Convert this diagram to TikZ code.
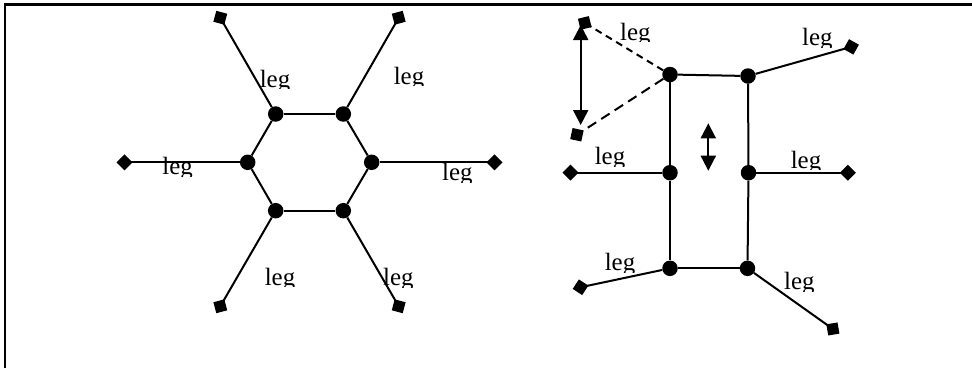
\documentclass[tikz,border=0pt]{standalone}
\usepackage{fontspec}
\setmainfont{Liberation Serif}
\usetikzlibrary{arrows.meta}
\begin{document}
\begin{tikzpicture}[x=1bp,y=-1bp,
  dot/.style={circle,fill=black,inner sep=0pt,minimum size=15.5bp},
  lab/.style={inner sep=0pt,anchor=base,font=\fontsize{25}{30}\selectfont},
  edge/.style={line width=2bp},
  legline/.style={line width=2bp,-{Turned Square[length=16bp,width=16bp]}},
  dbl/.style={line width=2bp,{Triangle[length=15bp,width=15bp]}-{Triangle[length=15bp,width=15bp]}}]
\newcommand\leglab[3]{\begin{scope}\clip (#2-30,#3+0.3) rectangle (#2+30,#3-30);
  \node[lab] (#1) at (#2,#3-1) {leg};\end{scope}}
\useasboundingbox (0,0) rectangle (972,368);
\fill[white] (0,0) rectangle (972,368);
% frame
\draw[line width=2.4bp,line join=miter] (5.2,368) -- (5.2,4.5) -- (972,4.5);
% ---------- left: hexagon ----------
\node[dot] (h1) at (275.7,114) {};
\node[dot] (h2) at (343.3,114) {};
\node[dot] (h3) at (371.7,162.3) {};
\node[dot] (h4) at (343.3,210.7) {};
\node[dot] (h5) at (275.7,210.7) {};
\node[dot] (h6) at (247.7,162.3) {};
\draw[edge] (h1) -- (h2);
\draw[edge] (h2) -- (h3);
\draw[edge] (h3) -- (h4);
\draw[edge] (h4) -- (h5);
\draw[edge] (h5) -- (h6);
\draw[edge] (h6) -- (h1);
\coordinate (e1) at (216.3,10.8);
\coordinate (e2) at (402.7,10.8);
\coordinate (e3) at (502.5,162.3);
\coordinate (e4) at (402.7,313.2);
\coordinate (e5) at (216.3,313.2);
\coordinate (e6) at (116.5,162.3);
\draw[legline] (h1) -- (e1);
\draw[legline] (h2) -- (e2);
\draw[legline] (h3) -- (e3);
\draw[legline] (h4) -- (e4);
\draw[legline] (h5) -- (e5);
\draw[legline] (h6) -- (e6);
\leglab{l1}{275}{88.3}
\leglab{l2}{409}{85.5}
\leglab{l3}{457.3}{181.7}
\leglab{l4}{398.3}{286.7}
\leglab{l5}{280}{286}
\leglab{l6}{177.7}{175.7}
% ---------- right: ladder ----------
\node[dot] (r1) at (670,74.5) {};
\node[dot] (r2) at (748,76) {};
\node[dot] (r3) at (670,172.7) {};
\node[dot] (r4) at (748.5,172.7) {};
\node[dot] (r5) at (670,268.3) {};
\node[dot] (r6) at (747.5,268.3) {};
\draw[edge] (r1) -- (r2);
\draw[edge] (r1) -- (r3);
\draw[edge] (r3) -- (r5);
\draw[edge] (r2) -- (r4);
\draw[edge] (r4) -- (r6);
\draw[edge] (r5) -- (r6);
\coordinate (f1) at (577.9,18.8);
\coordinate (f2) at (570.2,139.1);
\coordinate (f3) at (858.9,44.7);
\coordinate (f4) at (855.8,172.7);
\coordinate (f5) at (562.5,172.7);
\coordinate (f6) at (572.7,288.9);
\coordinate (f7) at (839.4,333.6);
\draw[legline,dash pattern=on 7bp off 5bp] (r1) -- (f1);
\draw[legline,dash pattern=on 10bp off 6bp] (r1) -- (f2);
\draw[legline] (r2) -- (f3);
\draw[legline] (r4) -- (f4);
\draw[legline] (r3) -- (f5);
\draw[legline] (r5) -- (f6);
\draw[legline] (r6) -- (f7);
\coordinate (a1) at (580.7,25);
\coordinate (a2) at (580.7,125);
\draw[dbl] (a1) -- (a2);
\coordinate (b1) at (708.3,123.3);
\coordinate (b2) at (708.3,170.7);
\draw[dbl] (b1) -- (b2);
\leglab{m1}{635.3}{41}
\leglab{m2}{817.3}{46.7}
\leglab{m3}{806}{169.3}
\leglab{m4}{610}{165.7}
\leglab{m5}{620}{271.7}
\leglab{m6}{799.3}{290.7}
\end{tikzpicture}
\end{document}
